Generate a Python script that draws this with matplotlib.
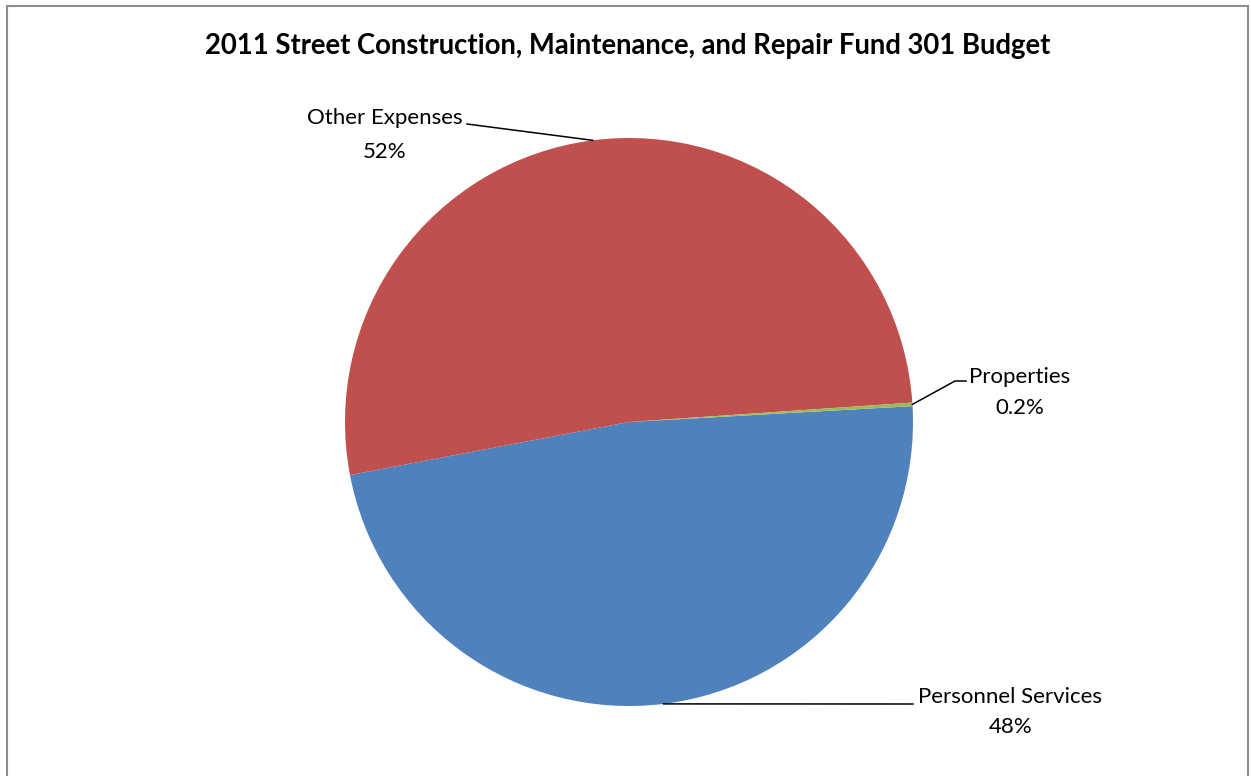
import numpy as np
import matplotlib.pyplot as plt
from matplotlib.patches import Rectangle

# 2011 Fund 301 budget split
categories = ['Personnel Services', 'Other Expenses', 'Properties']
shares = [47.9, 51.9, 0.2]
colors = ['#4F81BD', '#C0504D', '#9BBB59']

W, H = 1251, 776
plt.rcParams['font.family'] = ['Lato', 'DejaVu Sans']

fig = plt.figure(figsize=(W / 100, H / 100), dpi=100)
ax = fig.add_axes([0, 0, 1, 1])

# pie drawn in pixel space, y axis pointing down
cx, cy, r = 629, 422, 284
wedges, _ = ax.pie(shares, colors=colors, startangle=-3.2, counterclock=True,
                   center=(cx, cy), radius=r, frame=True,
                   wedgeprops=dict(linewidth=0))
ax.set_xlim(0, W)
ax.set_ylim(H, 0)
ax.axis('off')


def fmt(v):
    return f'{v:.1f}%' if v < 1 else f'{v:.0f}%'


def edge_point(w):
    mid = np.deg2rad((w.theta1 + w.theta2) / 2)
    return cx + r * np.cos(mid), cy + r * np.sin(mid)


# label layout: elbow points of the leader line and text anchors
layout = {
    'Personnel Services': dict(path=[(913, 704)], text=(1010, 697), pct=(1011, 727)),
    'Other Expenses': dict(path=[(467, 124)], text=(385, 118), pct=(385, 152)),
    'Properties': dict(path=[(955, 381), (966, 381)], text=(1020, 377), pct=(1020, 408)),
}

for w, name, v in zip(wedges, categories, shares):
    x0, y0 = edge_point(w)
    lay = layout[name]
    xs = [x0] + [p[0] for p in lay['path']]
    ys = [y0] + [p[1] for p in lay['path']]
    ax.plot(xs, ys, color='black', lw=1.1)
    ax.text(*lay['text'], name, ha='center', va='center', fontsize=16)
    ax.text(*lay['pct'], fmt(v), ha='center', va='center', fontsize=16)

ax.text(628, 46, '2011 Street Construction, Maintenance, and Repair Fund 301 Budget',
        ha='center', va='center', fontsize=19.8, fontweight='bold')

fig.add_artist(Rectangle((7 / W, -0.01), (1248 - 7) / W, 1.01 - 6 / H,
                         transform=fig.transFigure, fill=False,
                         ec='#8c8c8c', lw=1.5))

fig.savefig('out.png', dpi=100)
